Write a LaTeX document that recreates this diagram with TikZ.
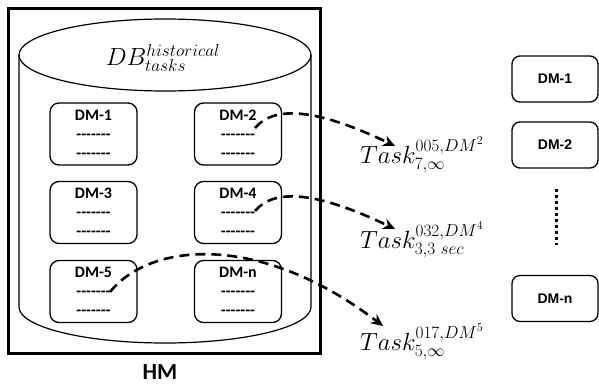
\documentclass[tikz,border=0pt]{standalone}
\usepackage{fontspec}
\setmainfont{Carlito}[Ligatures=TeXOff]
\newfontfamily\arialfont{Liberation Sans}
\usepackage{amsmath}
\usetikzlibrary{arrows.meta}

\tikzset{
    dmbox/.style={draw, line width=1.3pt, rounded corners=9pt,
        minimum width=87pt, minimum height=62pt, inner sep=2pt,
        align=center, font=\fontsize{16}{19}\selectfont\bfseries},
    rdmbox/.style={draw, line width=1.3pt, rounded corners=8pt,
        minimum width=86pt, minimum height=46pt,
        font=\fontsize{14}{16}\selectfont\arialfont\bfseries},
    tasklabel/.style={anchor=base west, inner sep=0pt, font=\fontsize{23}{26}\selectfont},
    sendarrow/.style={line width=2.6pt, dash pattern=on 10pt off 6pt,
        -{Stealth[length=12pt, width=11pt]}},
}
\newcommand{\dashrow}{-------}

\begin{document}
\begin{tikzpicture}[x=1pt, y=-1pt]
    % page size of the reference
    \useasboundingbox (0,0) rectangle (599,386);

    % HM frame
    \draw[line width=3pt] (8,8) rectangle (320,353);
    \node[font=\fontsize{23}{26}\selectfont\bfseries] (hm) at (160,372) {HM};

    % database cylinder
    \draw[line width=1.2pt] (165,55) ellipse [x radius=146, y radius=36];
    \draw[line width=1.2pt] (19,55) -- (19,307)
        arc[start angle=180, end angle=0, x radius=146, y radius=36] -- (311,55);
    \node[font=\fontsize{25}{28}\selectfont] (db) at (163,58) {$DB^{historical}_{tasks}$};

    % stored DM entries
    \node[dmbox] (dm1) at (93.5,134)   {DM-1\\\dashrow\\\dashrow};
    \node[dmbox] (dm2) at (238,134)    {DM-2\\\dashrow\\\dashrow};
    \node[dmbox] (dm3) at (93.5,212.5) {DM-3\\\dashrow\\\dashrow};
    \node[dmbox] (dm4) at (238,212.5)  {DM-4\\\dashrow\\\dashrow};
    \node[dmbox] (dm5) at (93.5,291.5) {DM-5\\\dashrow\\\dashrow};
    \node[dmbox] (dmn) at (238,291.5)  {DM-n\\\dashrow\\\dashrow};

    % DMs on the right
    \node[rdmbox] (rdm1) at (555,79)    {DM-1};
    \node[rdmbox] (rdm2) at (555,145)   {DM-2};
    \node[rdmbox] (rdmn) at (555,298.5) {DM-n};
    \coordinate (gaptop) at (556,189);
    \coordinate (gapbot) at (556,245);
    \draw[line width=3pt, dash pattern=on 3pt off 3pt] (gaptop) -- (gapbot);

    % task labels
    \node[tasklabel] (task1) at (360,163) {$Task^{005,DM^2}_{7,\infty}$};
    \node[tasklabel] (task2) at (360,248) {$Task^{032,DM^4}_{3,3\ sec}$};
    \node[tasklabel] (task3) at (360,350) {$Task^{017,DM^5}_{5,\infty}$};

    % arrows from the entries to the tasks
    \coordinate (from2) at (255,128);
    \coordinate (from4) at (255,211);
    \coordinate (from5) at (110,292);
    \coordinate (to1) at (395,146);
    \coordinate (to2) at (395,229);
    \coordinate (to3) at (383,326);
    \draw[sendarrow] (from2) .. controls (275,104) and (320,110) .. (to1);
    \draw[sendarrow] (from4) .. controls (275,187) and (320,193) .. (to2);
    \draw[sendarrow] (from5) .. controls (150,242) and (260,232) .. (to3);
\end{tikzpicture}
\end{document}
